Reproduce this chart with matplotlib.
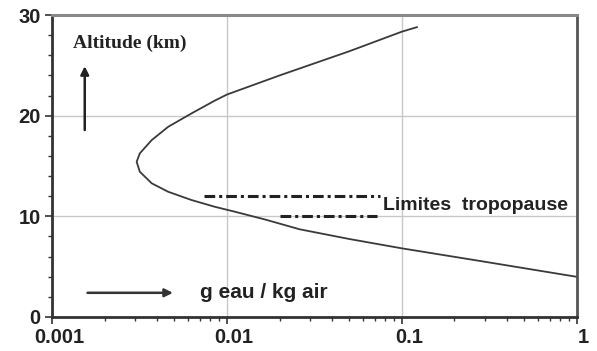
import numpy as np
import matplotlib.pyplot as plt
from matplotlib.transforms import ScaledTranslation

# water vapour mixing ratio profile (g water / kg air) vs altitude (km)
mix = [0.122, 0.1, 0.05, 0.02, 0.01, 0.00853, 0.00628, 0.00462, 0.00372,
       0.00318, 0.00305, 0.00318, 0.00372, 0.00462, 0.00628, 0.00853,
       0.0111, 0.0165, 0.0261, 0.05, 0.1, 0.3, 1.0]
alt = [28.8, 28.35, 26.4, 24.0, 22.1, 21.5, 20.23, 18.9, 17.58,
       16.26, 15.42, 14.43, 13.28, 12.44, 11.62, 10.95,
       10.46, 9.69, 8.71, 7.75, 6.82, 5.48, 3.99]

# tropopause limits (dash-dot segments)
trop_x = [[0.0074, 0.075], [0.020, 0.072]]
trop_y = [12.0, 10.0]

plt.rcParams['font.family'] = ['Liberation Sans', 'DejaVu Sans']

fig = plt.figure(figsize=(5.97, 3.51), dpi=100)
ax = fig.add_axes([0.087, 0.097, 0.879, 0.86])

ax.plot(mix, alt, color='#3a3a3a', lw=1.3)
for xs, y in zip(trop_x, trop_y):
    ax.plot(xs, [y, y], color='#222222', lw=2.2, linestyle=(0, (3.5, 1.3, 1, 1.3)))

ax.set_xscale('log')
ax.set_xlim(0.001, 1)
ax.set_ylim(0, 30)
ax.set_yticks([0, 10, 20, 30])
ax.set_yticks(np.arange(0, 31, 2), minor=True)
ax.set_xticks([0.001, 0.01, 0.1, 1])
ax.set_xticklabels(['0.001', '0.01', '0.1', '1'])
ax.grid(True, which='major', color='#c8c8c8', lw=1)
ax.tick_params(which='both', direction='out', colors='#333333', labelsize=14.5)
ax.tick_params(which='major', length=5, width=1.2, pad=3)
ax.tick_params(which='minor', length=3, width=1)
for lab in ax.get_xticklabels() + ax.get_yticklabels():
    lab.set_fontweight('bold')
    lab.set_color('#222222')
# x labels sit a little to the right of their ticks in the original
shift = ScaledTranslation(7 / 100, 0, fig.dpi_scale_trans)
for lab in ax.get_xticklabels():
    lab.set_transform(lab.get_transform() + shift)

for side in ['left', 'bottom']:
    ax.spines[side].set_color('#333333')
    ax.spines[side].set_linewidth(2)
ax.spines['top'].set_color('#888888')
ax.spines['top'].set_linewidth(2.2)
ax.spines['right'].set_color('#555555')
ax.spines['right'].set_linewidth(2)

ax.text(0.00132, 27.2, 'Altitude (km)', family='Liberation Serif', fontweight='bold',
        fontsize=14, color='#222222', va='center')
ax.annotate('', xy=(0.00154, 25.2), xytext=(0.00154, 18.3),
            arrowprops=dict(arrowstyle='-|>', color='#222222', lw=1.8, mutation_scale=12))
ax.text(0.0070, 2.4, 'g eau / kg air', fontweight='bold', fontsize=15,
        color='#222222', va='center')
ax.annotate('', xy=(0.0051, 2.4), xytext=(0.00154, 2.4),
            arrowprops=dict(arrowstyle='-|>', color='#333333', lw=1.8, mutation_scale=12))
ax.text(0.078, 11.1, 'Limites  tropopause', fontweight='bold', fontsize=14,
        color='#222222', va='center')

fig.savefig('out.png', dpi=100)
